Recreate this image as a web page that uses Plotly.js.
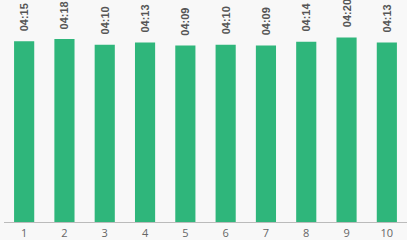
<!DOCTYPE html>
<html><head><meta charset="utf-8">
<script src="https://cdn.plot.ly/plotly-3.0.1.min.js"></script>
<style>html,body{margin:0;padding:0;background:#f8f8f8;}#c{width:407px;height:240px;}</style>
</head><body><div id="c"></div>
<script>
const categories = ["1","2","3","4","5","6","7","8","9","10"];
const labels = ["04:15","04:18","04:10","04:13","04:09","04:10","04:09","04:14","04:20","04:13"];
const seconds = [255,258,250,253,249,250,249,254,260,253];

const annotations = categories.map((c, i) => ({
  x: i, y: seconds[i], xref: 'x', yref: 'y',
  text: labels[i], textangle: -90, showarrow: false,
  xanchor: 'center', yanchor: 'bottom', yshift: 8,
  font: {family: 'Liberation Sans, Arial, sans-serif', size: 11, color: '#555', weight: 'bold'}
}));

Plotly.newPlot('c', [{
  type: 'bar',
  x: categories,
  y: seconds,
  marker: {color: '#2fb67b'},
  hoverinfo: 'none'
}], {
  width: 407, height: 240,
  margin: {l: 4, r: 0, t: 0, b: 18, pad: 0},
  paper_bgcolor: '#f8f8f8',
  plot_bgcolor: '#f8f8f8',
  bargap: 0.5,
  showlegend: false,
  annotations: annotations,
  xaxis: {
    type: 'category', range: [-0.5, 9.5], autorange: false,
    showline: true, linecolor: '#bbb', linewidth: 1,
    ticks: '', showgrid: false, zeroline: false, ticklabelstandoff: 1,
    tickfont: {family: 'Open Sans, sans-serif', size: 11, color: '#666'}
  },
  yaxis: {
    range: [0, 313], visible: false, showgrid: false, zeroline: false
  }
}, {displayModeBar: false, staticPlot: true});
</script></body></html>
